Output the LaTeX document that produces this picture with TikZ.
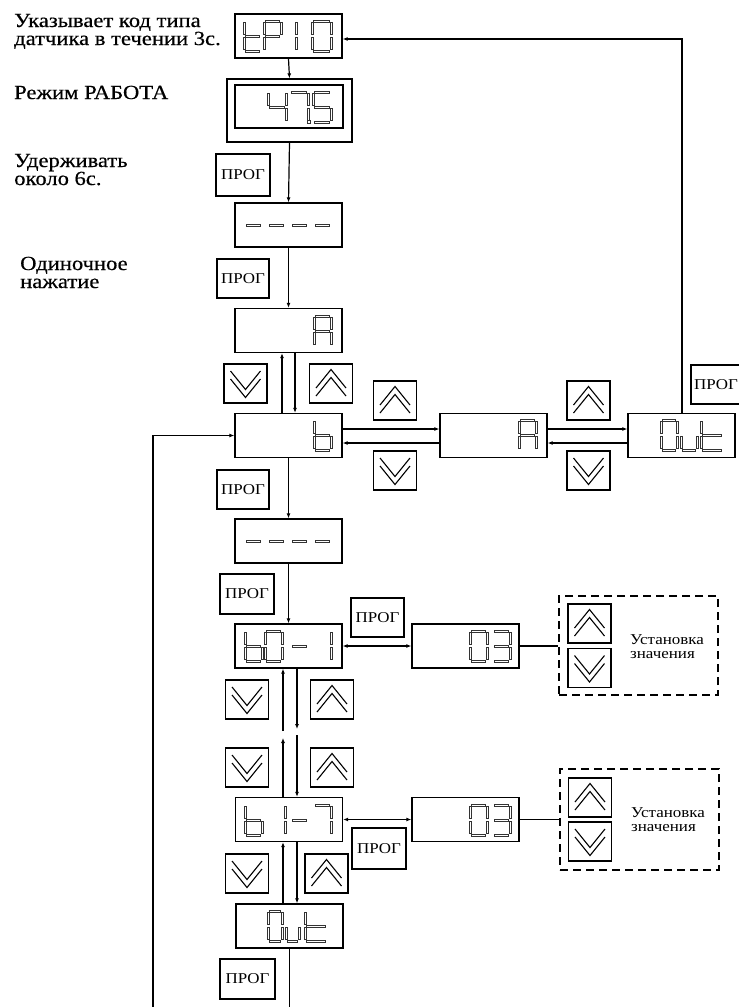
\documentclass[tikz,border=0pt]{standalone}
\usepackage{fontspec}
\setmainfont[FakeStretch=1.13]{Liberation Serif}
\newfontfamily\lblfont[FakeStretch=1.13,FakeBold=0.5]{Liberation Serif}
\usetikzlibrary{arrows.meta}
\newcommand\sevseg[4][17]{%
  \begin{scope}[shift={(#2,#3)}]
  \foreach \s in {#4}{%
    \if a\s \draw[seg] (1.5,-1.1) rectangle (#1-1.5,1.1);\fi
    \if b\s \draw[seg] (#1-1.1,1.5) rectangle (#1+1.1,13.5);\fi
    \if c\s \draw[seg] (#1-1.1,16.5) rectangle (#1+1.1,28.5);\fi
    \if d\s \draw[seg] (1.5,28.9) rectangle (#1-1.5,31.1);\fi
    \if e\s \draw[seg] (-1.1,16.5) rectangle (1.1,28.5);\fi
    \if f\s \draw[seg] (-1.1,1.5) rectangle (1.1,13.5);\fi
    \if g\s \draw[seg] (1.5,13.9) rectangle (#1-1.5,16.1);\fi
  }%
  \end{scope}}
\tikzset{
  disp/.style={draw, line width=1.3pt, minimum width=107pt, minimum height=44pt, inner sep=0pt},
  prog/.style={draw, line width=1.2pt, minimum width=53pt, minimum height=40pt, inner sep=0pt,
    font=\fontsize{15}{15}\selectfont},
  btnbox/.style={draw, line width=1.2pt, minimum width=43pt, minimum height=39pt, inner sep=0pt},
  btnup/.style={btnbox, path picture={
    \draw[line width=1.1pt]
      ([shift={(-15pt,-4.5pt)}]path picture bounding box.center) --
      ([shift={(0pt,14pt)}]path picture bounding box.center) --
      ([shift={(15pt,-4.5pt)}]path picture bounding box.center);
    \draw[line width=1.1pt]
      ([shift={(-15pt,-12.5pt)}]path picture bounding box.center) --
      ([shift={(0pt,6pt)}]path picture bounding box.center) --
      ([shift={(15pt,-12.5pt)}]path picture bounding box.center);}},
  btndown/.style={btnbox, path picture={
    \draw[line width=1.1pt]
      ([shift={(-15pt,4.5pt)}]path picture bounding box.center) --
      ([shift={(0pt,-14pt)}]path picture bounding box.center) --
      ([shift={(15pt,4.5pt)}]path picture bounding box.center);
    \draw[line width=1.1pt]
      ([shift={(-15pt,12.5pt)}]path picture bounding box.center) --
      ([shift={(0pt,-6pt)}]path picture bounding box.center) --
      ([shift={(15pt,12.5pt)}]path picture bounding box.center);}},
  dbox/.style={draw, line width=1.3pt, dash pattern=on 8pt off 5pt, inner sep=0pt},
  conn/.style={line width=1.2pt},
  arr/.style={conn, -{Latex[length=5pt,width=4pt]}},
  darr/.style={conn, {Latex[length=5pt,width=4pt]}-{Latex[length=5pt,width=4pt]}},
  seg/.style={line width=0.5pt, draw=black!80},
  lbl/.style={font=\lblfont\fontsize{20}{18}\selectfont, align=left, inner sep=0pt, anchor=base west},
  small/.style={font=\fontsize{15}{14}\selectfont, align=left, inner sep=0pt, anchor=base west},
}
\begin{document}
\begin{tikzpicture}[x=1pt,y=-1pt]
\useasboundingbox[fill=white] (0,0) rectangle (739,1007);

% left labels (anchor = baseline of the last line)
\node[lbl] (l1) at (14,45) {Указывает код типа\\датчика в течении 3с.};
\node[lbl] (l2) at (14,99) {Режим РАБОТА};
\node[lbl] (l3) at (14,185) {Удерживать\\около 6с.};
\node[lbl] (l4) at (20,288) {Одиночное\\нажатие};

% display boxes
\node[disp] (tp) at (288.5,36) {};
\node[draw, line width=1.3pt, minimum width=125pt, minimum height=63pt, inner sep=0pt] (wo) at (289.5,110.5) {};
\node[disp, minimum width=108pt, minimum height=43pt] (wi) at (289,106.5) {};
\node[disp] (d1) at (288.5,225) {};
\node[disp] (A) at (288.5,330.5) {};
\node[disp] (b) at (288.5,435.5) {};
\node[disp] (A2) at (493.5,435.5) {};
\node[disp] (out) at (681.5,435.5) {};
\node[disp] (d2) at (288.5,541) {};
\node[disp] (b01) at (288.5,646) {};
\node[disp] (v1) at (465.5,646) {};
\node[disp] (b17) at (289,819.5) {};
\node[disp] (v2) at (465.5,819.5) {};
\node[disp] (out2) at (289.5,926) {};

% seven-segment contents
\sevseg{244}{21}{d,e,f,g}
\sevseg{264}{21}{a,b,e,f,g}
\sevseg{279}{21}{b,c}
\sevseg[19]{312}{21}{a,b,c,d,e,f}
\sevseg[18]{268}{92}{b,c,f,g}
\sevseg[18]{290}{92}{a,b,c}
\sevseg[18]{313}{92}{a,c,d,f,g}
\draw[seg] (307.5,120) rectangle (310.5,123);
\foreach \xx in {245,268,291,314} {\sevseg{\xx}{210}{g}}
\sevseg{314}{316}{a,b,c,e,f,g}
\sevseg{314}{420}{c,d,e,f,g}
\sevseg{519}{420}{a,b,c,e,f,g}
\sevseg[16]{661}{420}{a,b,c,d,e,f}
\sevseg[16]{681}{420}{c,d,e}
\sevseg[22]{701}{420}{d,e,f,g}
\foreach \xx in {245,268,291,314} {\sevseg{\xx}{526}{g}}
\sevseg{245}{631}{c,d,e,f,g}
\sevseg{265}{631}{a,b,c,d,e,f}
\sevseg{291}{631}{g}
\sevseg{314}{631}{b,c}
\sevseg{470}{631}{a,b,c,d,e,f}
\sevseg{493}{631}{a,b,c,d,g}
\sevseg{245}{805}{c,d,e,f,g}
\sevseg{268}{805}{b,c}
\sevseg{291}{805}{g}
\sevseg{314}{805}{a,b,c}
\sevseg{470}{805}{a,b,c,d,e,f}
\sevseg{493}{805}{a,b,c,d,g}
\sevseg[14]{268}{911}{a,b,c,d,e,f}
\sevseg[13]{286}{911}{c,d,e}
\sevseg[22]{305}{911}{d,e,f,g}

% ПРОГ buttons
\node[prog, minimum width=54pt, minimum height=42pt] (p1) at (243,175) {ПРОГ};
\node[prog, minimum width=52pt, minimum height=39pt] (p2) at (243,278.5) {ПРОГ};
\node[prog, minimum width=50pt, minimum height=39pt] (po) at (716,384.5) {ПРОГ};
\node[prog, minimum width=52pt, minimum height=39pt] (p3) at (243,489.5) {ПРОГ};
\node[prog, minimum width=54pt] (p4) at (247,594) {ПРОГ};
\node[prog, minimum height=39pt] (pb1) at (377.5,617.5) {ПРОГ};
\node[prog, minimum width=54pt, minimum height=41pt] (pb2) at (379,848.5) {ПРОГ};
\node[prog, minimum width=55pt] (p5) at (247.5,979) {ПРОГ};

% arrow buttons
\node[btndown] (k1) at (245.5,383.5) {};
\node[btnup] (k2) at (331,383.5) {};
\node[btnup] (k3) at (395,400.5) {};
\node[btndown] (k4) at (395,470.5) {};
\node[btnup] (k5) at (588.5,400.5) {};
\node[btndown] (k6) at (588.5,470.5) {};
\node[btndown] (k7) at (247,699.5) {};
\node[btnup] (k8) at (332,699.5) {};
\node[btndown] (k9) at (247,767.5) {};
\node[btnup] (k10) at (332,767.5) {};
\node[btndown] (k11) at (247,873.5) {};
\node[btnup] (k12) at (326.5,873.5) {};

% dashed value-setting boxes
\node[dbox, minimum width=159pt, minimum height=99pt] (D1) at (638.5,645.5) {};
\node[btnup] (k13) at (589.5,623.5) {};
\node[btndown] (k14) at (589.5,668) {};
\node[small] (t1) at (630,658) {Установка\\значения};
\node[dbox, minimum width=159pt, minimum height=101pt] (D2) at (639.5,819.5) {};
\node[btnup] (k15) at (590,797.5) {};
\node[btndown] (k16) at (590,841.5) {};
\node[small] (t2) at (631,831) {Установка\\значения};

% connectors
\coordinate (tr) at (682,39);
\draw[arr] (out.north -| tr) -- (tr) -- (tp.east |- tr);
\draw[arr] (tp.south) -- (wo.north);
\draw[arr] (wo.south) -- (d1.north);
\draw[arr] (d1.south) -- (A.north);
\draw[arr] ([xshift=-6.5pt]b.north) -- ([xshift=-6.5pt]A.south);
\draw[arr] ([xshift=6.5pt]A.south) -- ([xshift=6.5pt]b.north);
\draw[arr] ([yshift=6.5pt]b.east) -- ([yshift=6.5pt]A2.west);
\draw[arr] ([yshift=-7.5pt]A2.west) -- ([yshift=-7.5pt]b.east);
\draw[arr] ([yshift=6.5pt]A2.east) -- ([yshift=6.5pt]out.west);
\draw[arr] ([yshift=-7.5pt]out.west) -- ([yshift=-7.5pt]A2.east);
\draw[arr] (b.south) -- (d2.north);
\draw[arr] (d2.south) -- (b01.north);
\draw[darr] (b01.east) -- (v1.west);
\draw[conn] (v1.east) -- (D1.west |- v1.east);
\coordinate (dn1) at (297,729);
\coordinate (dn2) at (297,735);
\coordinate (up1) at (283,731);
\coordinate (up2) at (283,738);
\draw[arr] (b01.south -| dn1) -- (dn1);
\draw[arr] (dn2) -- (b17.north -| dn2);
\draw[arr] (up1) -- (b01.south -| up1);
\draw[arr] (b17.north -| up2) -- (up2);
\draw[darr] (b17.east) -- (v2.west);
\draw[conn] (v2.east) -- (D2.west |- v2.east);
\draw[arr] (out2.north -| up1) -- (b17.south -| up1);
\draw[arr] (b17.south -| dn1) -- (out2.north -| dn1);
\coordinate (lp) at (153,1012);
\draw[arr] (out2.south) -- (out2.south |- lp) -- (lp) |- (b.west);
\end{tikzpicture}
\end{document}
